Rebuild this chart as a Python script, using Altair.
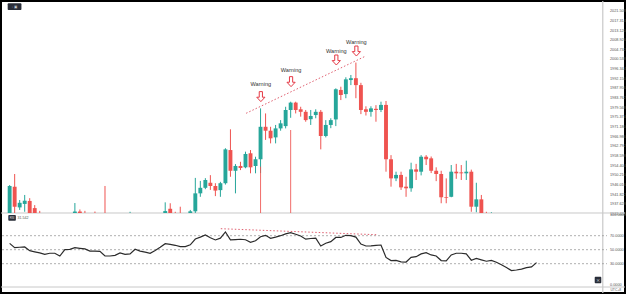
import altair as alt
import pandas as pd

# ---------------- data ----------------
opens = [1930.0,1945.1,1936.1,1937.6,1938.9,1935.8,1930.5,1929.0,1927.0,1928.0,
         1928.2,1925.0,1930.5,1931.0,1934.3,1932.0,1931.5,1930.0,1929.8,1929.5,
         1925.0,1925.2,1926.0,1928.0,1927.0,1927.5,1931.0,1930.0,1929.3,1928.5,
         1930.5,1932.5,1935.5,1932.5,1932.3,1931.5,1932.0,1934.4,1942.2,1944.6,
         1946.8,1945.4,1943.6,1946.6,1961.0,1952.0,1954.1,1953.5,1959.6,1954.1,
         1957.0,1971.1,1969.4,1966.5,1970.4,1971.4,1978.4,1981.6,1978.7,1977.6,
         1974.4,1976.2,1977.6,1967.1,1971.9,1974.3,1987.1,1985.3,1991.4,1992.2,
         1989.2,1978.7,1977.6,1978.9,1978.4,1980.6,1957.0,1948.7,1950.2,1945.1,
         1944.4,1952.6,1951.6,1958.1,1957.4,1952.0,1950.6,1940.6,1940.7,1951.6,
         1951.3,1950.9,1951.6,1936.4,1939.6,1931.0,1930.5,1931.0,1929.0,1927.0,
         1924.0,1921.0,1921.5,1922.5,1923.5,1923.5]
highs = [1945.8,1950.6,1939.3,1941.5,1940.1,1937.1,1934.6,1931.5,1930.0,1930.5,
         1929.0,1931.5,1932.5,1938.0,1935.2,1934.6,1932.8,1934.3,1932.0,1945.4,
         1927.0,1927.0,1929.0,1929.0,1934.2,1932.0,1932.0,1931.0,1930.0,1931.5,
         1933.0,1938.3,1937.9,1934.2,1936.4,1933.0,1935.0,1948.9,1947.6,1948.8,
         1950.1,1946.6,1947.2,1961.8,1970.0,1954.9,1955.9,1960.3,1961.0,1958.1,
         1979.1,1976.9,1971.1,1971.9,1974.0,1979.8,1982.0,1982.0,1979.8,1978.4,
         1978.4,1978.7,1978.4,1974.0,1974.8,1987.8,1988.5,1992.6,1993.6,1999.0,
         1990.2,1980.0,1980.0,1980.5,1982.0,1982.3,1958.8,1951.6,1951.6,1949.4,
         1955.5,1955.0,1958.8,1958.8,1958.2,1953.5,1952.0,1948.7,1954.5,1955.0,
         1954.5,1956.4,1952.5,1946.8,1941.5,1934.2,1934.0,1932.0,1930.0,1928.0,
         1925.0,1922.5,1923.0,1924.0,1924.5,1927.5]
lows = [1928.0,1933.0,1935.0,1934.2,1931.0,1929.5,1928.0,1926.0,1926.0,1926.5,
        1924.0,1924.5,1929.5,1930.0,1931.0,1930.5,1929.0,1929.0,1928.5,1924.0,
        1923.5,1924.0,1925.5,1926.0,1926.5,1927.0,1929.0,1928.5,1927.5,1928.0,
        1930.0,1932.0,1931.5,1931.0,1930.5,1930.5,1931.5,1933.0,1940.7,1944.0,
        1943.7,1941.0,1940.7,1946.0,1949.4,1942.2,1952.3,1953.1,1950.9,1950.9,
        1951.0,1965.4,1963.9,1963.9,1969.4,1970.4,1975.0,1976.9,1975.5,1973.3,
        1971.9,1974.8,1961.3,1966.5,1970.5,1971.4,1982.7,1983.5,1989.2,1983.5,
        1976.6,1976.0,1975.5,1973.3,1977.5,1951.6,1945.1,1947.5,1943.7,1940.7,
        1942.9,1948.0,1950.0,1954.5,1951.0,1947.5,1937.9,1937.9,1940.5,1948.5,
        1948.0,1948.0,1934.2,1934.0,1930.0,1929.0,1929.5,1928.0,1926.0,1923.0,
        1920.0,1920.0,1920.5,1921.5,1922.0,1923.0]
closes = [1945.4,1936.4,1938.1,1939.0,1932.0,1930.5,1929.0,1927.0,1928.0,1928.2,
          1925.0,1930.5,1931.0,1934.3,1932.0,1931.5,1930.0,1929.8,1929.5,1925.0,
          1925.2,1926.0,1928.0,1927.0,1927.5,1931.0,1930.0,1929.3,1928.5,1930.5,
          1932.5,1934.5,1932.5,1932.3,1931.5,1932.0,1934.4,1942.2,1944.6,1948.0,
          1945.4,1943.4,1946.6,1961.3,1952.0,1954.1,1953.2,1959.3,1953.5,1957.0,
          1971.1,1969.4,1966.1,1970.4,1972.6,1978.4,1981.6,1978.4,1977.6,1974.0,
          1975.8,1977.6,1967.1,1971.9,1974.0,1987.4,1984.9,1991.7,1992.2,1989.2,
          1978.4,1977.6,1979.1,1978.4,1980.6,1957.0,1948.7,1950.2,1944.8,1944.4,
          1952.6,1951.6,1958.1,1957.0,1952.0,1950.6,1940.5,1940.3,1951.6,1950.9,
          1950.9,1951.6,1936.4,1939.6,1931.0,1930.5,1931.0,1929.0,1927.0,1924.0,
          1921.0,1921.5,1922.5,1923.5,1923.4,1927.0]
rsi = [59,53,53.5,53.9,48.6,47,45.5,43.4,44.9,44.9,
       41,50,50.5,52.9,52,51.2,48.1,47.9,47.7,41,
       41,42,45.3,43.4,43.9,50.6,48,46.5,44.9,49,
       53.5,58.6,57.5,56.3,54.5,54.5,57,65.3,68,71,
       67.1,63.9,66.5,75.3,64,64.5,64.9,64.2,60.6,62.8,
       68.5,70.5,66.3,68,70,72.5,74.3,72,69.5,65,
       66,66.5,55.3,59.3,61.5,67.5,67.5,70.6,70.2,68,
       58,55.3,55.5,56.3,56.7,39,34.5,34.8,32.6,32.4,
       39,40,44,45.7,42.5,41,34.5,33.9,42.5,44.9,
       44.9,44,35,37.5,35.5,33.5,34.7,32,28.5,24.5,
       20.2,21,22.3,24.3,25.5,31.5]

spike_idx = [50, 56]
spike_top = [1953.8, 1969.7]

warn_idx = [50.06, 56.08, 65.1, 69.1]
warn_text_price = [1989.7, 1995.8, 2004.1, 2008.0]
warn_arrow_price = [1984.2, 1990.7, 2000.1, 2004.0]

price_trend_idx = [47.12, 70.98]
price_trend_val = [1976.96, 2001.84]
rsi_trend_idx = [42.08, 73.06]
rsi_trend_val = [80.0, 71.4]

price_ticks = [2021.508, 2017.314, 2013.120, 2008.926, 2004.732, 2000.538, 1996.344,
               1992.150, 1987.956, 1983.762, 1979.568, 1975.374, 1971.180, 1966.986,
               1962.792, 1958.598, 1954.404, 1950.210, 1946.016, 1941.822, 1937.628,
               1933.434]
rsi_ticks = [100, 70, 50, 30, 0]
rsi_levels = [70, 50, 30]
date_labels = ["Apr", "4", "6", "8", "11", "13", "15", "20", "22", "25", "27"]
date_pos = [1.04, 8.9, 19.9, 32.0, 40.1, 51.0, 63.2, 76.1, 88.1, 96.1, 107.3]

# ---------------- scales ----------------
CLIP = 1933.67
P_DOM = [1898.93, 2025.72]
R_DOM = [-11.86, 405.29]
X_DOM = [-0.7255, 121.63]
UP, DOWN = "#26a69a", "#ef5350"
FONT = "Liberation Sans"

xs = alt.Scale(domain=X_DOM, nice=False, zero=False)
ps = alt.Scale(domain=P_DOM, nice=False, zero=False)
rs = alt.Scale(domain=R_DOM, nice=False, zero=False)

df = pd.DataFrame({"i": list(range(len(opens))), "open": opens, "high": highs,
                   "low": lows, "close": closes, "rsi": rsi})
df["dir"] = ["up" if c >= o else "down" for o, c in zip(opens, closes)]
col = alt.Color("dir:N", scale=alt.Scale(domain=["up", "down"], range=[UP, DOWN]), legend=None)

X = lambda f: alt.X(f, type="quantitative", scale=xs, axis=None)

wicks = alt.Chart(df).transform_filter(alt.datum.high > CLIP).transform_calculate(
    wlo=f"max(datum.low, {CLIP})"
).mark_rule(strokeWidth=1).encode(
    x=X("i"), y=alt.Y("wlo:Q", scale=ps, axis=None), y2="high:Q", color=col)

price_axis = alt.Axis(orient="right", values=price_ticks, format=".3f", offset=-17,
                      domain=False, ticks=False, tickSize=0, labelPadding=1.5,
                      labelFontSize=3.8, labelColor="#555", labelFont=FONT, grid=False,
                      labelOverlap=False, labelFlush=False, title=None)
bodies = alt.Chart(df).transform_calculate(
    top="max(datum.open, datum.close)",
    bot=f"max(min(datum.open, datum.close), {CLIP})"
).transform_filter(alt.datum.top > CLIP).mark_bar(size=3.9).encode(
    x=X("i"), y=alt.Y("top:Q", scale=ps, axis=price_axis), y2="bot:Q", color=col)

sp = pd.DataFrame({"i": spike_idx, "top": spike_top, "bot": [CLIP] * len(spike_idx)})
spikes = alt.Chart(sp).mark_rule(color=DOWN, strokeWidth=1, opacity=0.85).encode(
    x=X("i"), y=alt.Y("top:Q", scale=ps, axis=None), y2="bot:Q")

ptr = pd.DataFrame({"i": price_trend_idx, "v": price_trend_val})
ptrend = alt.Chart(ptr).mark_line(color="#e06070", strokeWidth=1, strokeDash=[1.5, 2]).encode(
    x=X("i"), y=alt.Y("v:Q", scale=ps, axis=None))

wd = pd.DataFrame({"i": warn_idx, "t": warn_text_price, "a": warn_arrow_price})
arrow_path = "M-0.32,-1 L0.32,-1 L0.32,0.12 L0.82,0.12 L0,1 L-0.82,0.12 L-0.32,0.12 Z"
arrows = alt.Chart(wd).mark_point(shape=arrow_path, size=100, filled=True, fill="white",
                                  stroke="#e53945", strokeWidth=1, opacity=1).encode(
    x=X("i"), y=alt.Y("a:Q", scale=ps, axis=None))
wtext = alt.Chart(wd).mark_text(text="Warning", fontSize=5.6, font=FONT, color="#333").encode(
    x=X("i"), y=alt.Y("t:Q", scale=ps, axis=None))

# ---------------- RSI panel ----------------
rsi_axis = alt.Axis(orient="right", values=rsi_ticks, format=".4f", offset=-17,
                    domain=False, ticks=False, tickSize=0, labelPadding=1.5,
                    labelFontSize=3.8, labelColor="#555", labelFont=FONT, grid=False,
                    labelOverlap=False, labelFlush=False, title=None)
lv = pd.DataFrame({"v": rsi_levels})
levels = alt.Chart(lv).mark_rule(color="#9a9a9a", strokeWidth=0.8, strokeDash=[2, 2]).encode(
    y=alt.Y("v:Q", scale=rs, axis=None), x=alt.value(1), x2=alt.value(606))

label_expr = "[" + ",".join(f"'{s}'" for s in date_labels) + "][indexof([" + \
    ",".join(str(p) for p in date_pos) + "], datum.value)]"
x_axis = alt.Axis(orient="bottom", values=date_pos, labelExpr=label_expr, offset=-3,
                  domain=False, ticks=False, tickSize=0, labelPadding=0,
                  labelBaseline="middle", labelFontSize=3.8, labelColor="#555",
                  labelFont=FONT, grid=False, labelOverlap=False, labelFlush=False, title=None)
rsi_line = alt.Chart(df).mark_line(color="#2b2b2b", strokeWidth=1.2).encode(
    x=alt.X("i:Q", scale=xs, axis=x_axis), y=alt.Y("rsi:Q", scale=rs, axis=rsi_axis))

rtr = pd.DataFrame({"i": rsi_trend_idx, "v": rsi_trend_val})
rtrend = alt.Chart(rtr).mark_line(color="#e06070", strokeWidth=1, strokeDash=[1.5, 2]).encode(
    x=X("i"), y=alt.Y("v:Q", scale=rs, axis=None))

# ---------------- frame / separators / badges ----------------
hsep_p = alt.Chart(pd.DataFrame({"v": [CLIP]})).mark_rule(color="#c8c8c8", strokeWidth=1).encode(
    y=alt.Y("v:Q", scale=ps, axis=None), x=alt.value(0), x2=alt.value(624))
hsep_r = alt.Chart(pd.DataFrame({"v": [-3.3]})).mark_rule(color="#c8c8c8", strokeWidth=1).encode(
    y=alt.Y("v:Q", scale=rs, axis=None), x=alt.value(0), x2=alt.value(624))
vsep = alt.Chart(pd.DataFrame({"i": [118.2]})).mark_rule(color="#c8c8c8", strokeWidth=1.2).encode(
    x=X("i"), y=alt.value(0), y2=alt.value(292))

tl = pd.DataFrame({"x1": [-0.39], "x2": [2.35], "y1": [2024.7], "y2": [2021.8]})
tl_badge = alt.Chart(tl).mark_rect(color="#2a2e39", cornerRadius=1).encode(
    x=X("x1"), x2="x2:Q", y=alt.Y("y1:Q", scale=ps, axis=None), y2="y2:Q")
tl_txt = alt.Chart(pd.DataFrame({"i": [0.98], "v": [2023.25]})).mark_text(
    text="-  ▣", fontSize=3.6, color="#d0d3da", font="DejaVu Sans").encode(
    x=X("i"), y=alt.Y("v:Q", scale=ps, axis=None))

rb = pd.DataFrame({"x1": [-0.27], "x2": [1.24], "y1": [99.6], "y2": [91.4]})
rsi_badge = alt.Chart(rb).mark_rect(color="#2a2e39", cornerRadius=0.8).encode(
    x=X("x1"), x2="x2:Q", y=alt.Y("y1:Q", scale=rs, axis=None), y2="y2:Q")
rsi_badge_t = alt.Chart(pd.DataFrame({"i": [0.48], "v": [95.5]})).mark_text(
    text="RSI", fontSize=2.8, color="#e0e0e0", font=FONT).encode(
    x=X("i"), y=alt.Y("v:Q", scale=rs, axis=None))
rsi_val = alt.Chart(pd.DataFrame({"i": [1.57], "v": [95.3], "t": ["31.542"]})).mark_text(
    fontSize=3.6, color="#555", font=FONT, align="left").encode(
    x=X("i"), y=alt.Y("v:Q", scale=rs, axis=None), text="t:N")

br = pd.DataFrame({"x1": [116.59], "x2": [117.9], "y1": [11.4], "y2": [2.0]})
br_badge = alt.Chart(br).mark_rect(color="#2a2e39", cornerRadius=1).encode(
    x=X("x1"), x2="x2:Q", y=alt.Y("y1:Q", scale=rs, axis=None), y2="y2:Q")
br_t = alt.Chart(pd.DataFrame({"i": [117.25], "v": [6.7]})).mark_text(
    text="×", fontSize=5, color="#d0d3da", font="DejaVu Sans").encode(
    x=X("i"), y=alt.Y("v:Q", scale=rs, axis=None))
utc = alt.Chart(pd.DataFrame({"i": [120.8], "v": [-7.6]})).mark_text(
    text="UTC+8", fontSize=3.4, color="#555", font=FONT).encode(
    x=X("i"), y=alt.Y("v:Q", scale=rs, axis=None))

chart = alt.layer(
    hsep_p, hsep_r, vsep, levels, wicks, bodies, spikes, ptrend, arrows, wtext,
    rsi_line, rtrend, tl_badge, tl_txt, rsi_badge, rsi_badge_t, rsi_val,
    br_badge, br_t, utc
).resolve_scale(y="independent").properties(
    width=624, height=292, padding=1, autosize=alt.AutoSizeParams(type="none"),
    background="white"
).configure_view(stroke="black", strokeWidth=2)

chart.save("out.html", embed_options={"renderer": "svg", "actions": False})
